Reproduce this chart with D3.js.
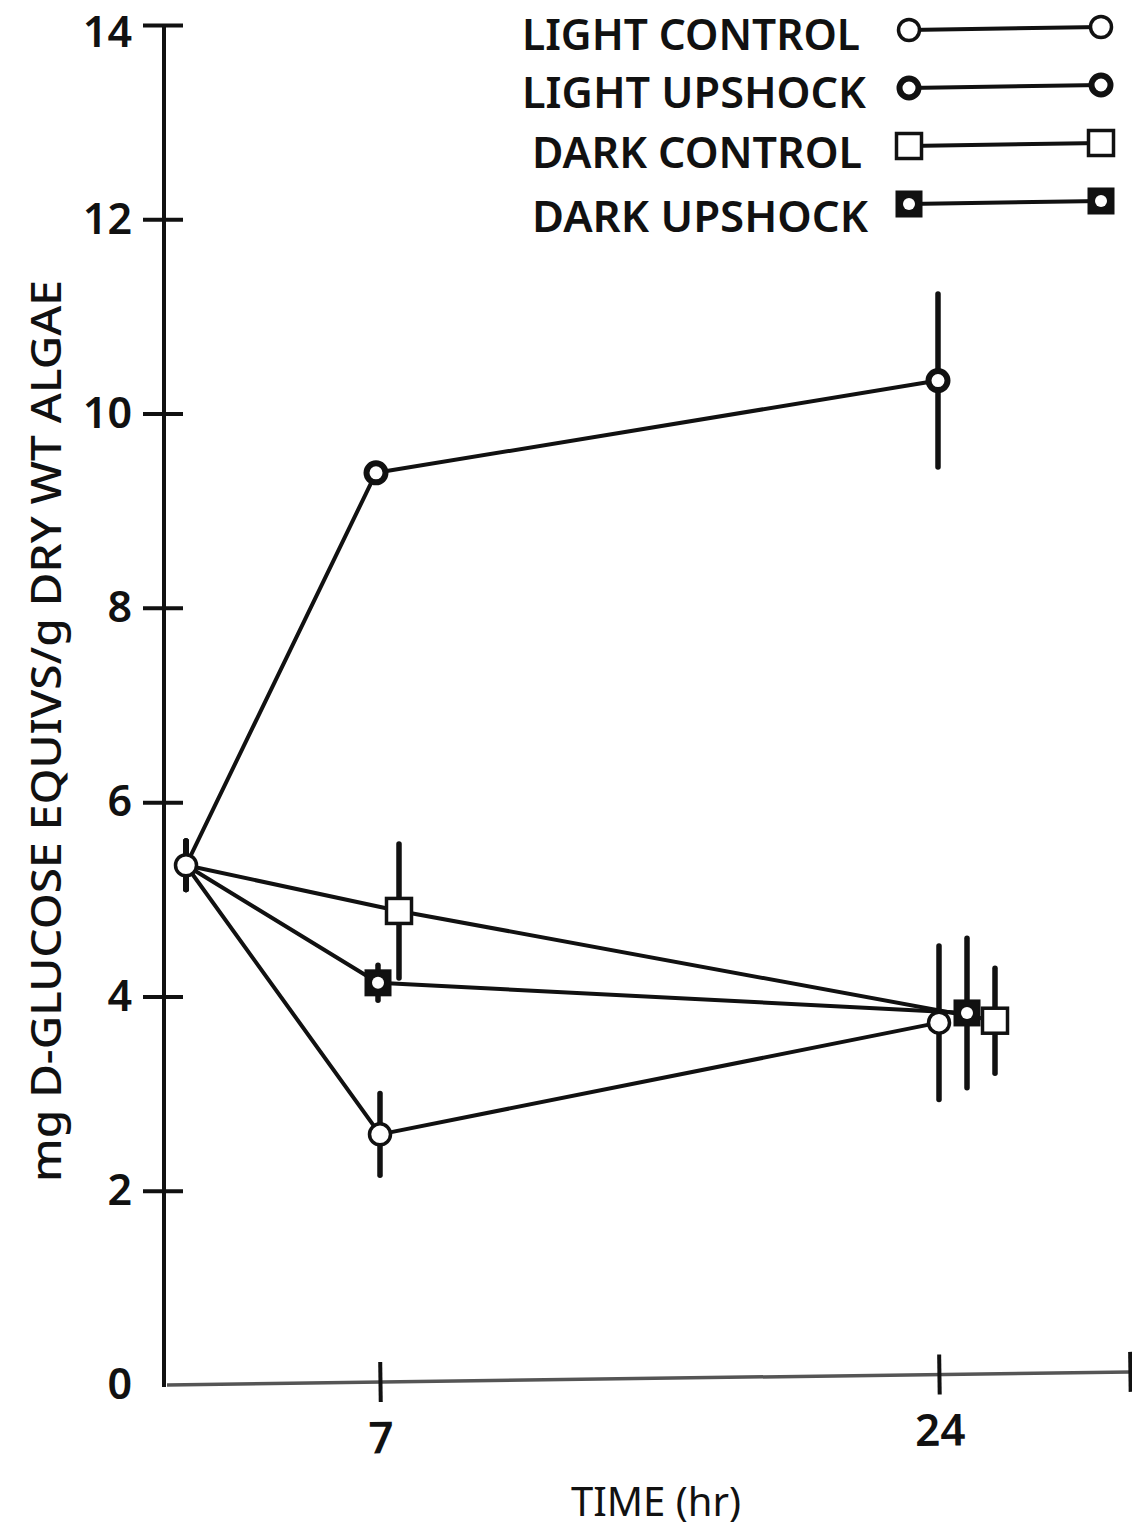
<!DOCTYPE html>
<html>
<head>
<meta charset="utf-8">
<script src="https://cdn.jsdelivr.net/npm/d3@7"></script>
<style>
  html, body { margin: 0; padding: 0; background: #fff; }
  svg { display: block; }
  text { font-family: "Noto Sans", "DejaVu Sans", sans-serif; fill: #111; }
</style>
</head>
<body>
<svg id="chart" width="1132" height="1528"></svg>
<script>
// Sampling times (hr)
const times = [0, 7, 24];
const axisEndTime = 30;

// Carbohydrate content, mg D-glucose equivalents per g dry weight, with error half-widths
const lightControl    = [5.35, 2.58, 3.73];
const lightControlErr = [0.25, 0.42, 0.79];
const lightUpshock    = [5.35, 9.39, 10.34];
const lightUpshockErr = [0.25, 0.00, 0.89];
const darkControl     = [5.35, 4.88, 3.75];
const darkControlErr  = [0.25, 0.69, 0.54];
const darkUpshock     = [5.35, 4.14, 3.83];
const darkUpshockErr  = [0.25, 0.18, 0.77];

const seriesNames = ["LIGHT CONTROL", "LIGHT UPSHOCK", "DARK CONTROL", "DARK UPSHOCK"];
const yTicks = [0, 2, 4, 6, 8, 10, 12, 14];
const xTicks = [7, 24];

const series = [
  { name: seriesNames[0], values: lightControl, err: lightControlErr, marker: "openCircle" },
  { name: seriesNames[1], values: lightUpshock, err: lightUpshockErr, marker: "ringCircle" },
  { name: seriesNames[2], values: darkControl,  err: darkControlErr,  marker: "openSquare" },
  { name: seriesNames[3], values: darkUpshock,  err: darkUpshockErr,  marker: "darkSquare" }
];

// horizontal nudges (px) so overlapping symbols stay visible
const dodge = {
  "LIGHT CONTROL": [0, 0, 0],
  "LIGHT UPSHOCK": [0, -4, -1],
  "DARK CONTROL":  [0, 19, 56],
  "DARK UPSHOCK":  [0, -2, 28]
};

const svg = d3.select("#chart");

const axisLeftX = 164;
const y = d3.scaleLinear().domain([0, 14]).range([1385, 25]);
// time axis is drawn with the origin point set just right of the vertical axis
const x = d3.scaleLinear().domain([0, 7, 24, axisEndTime]).range([186, 380, 939, 1130]);

// ---- Y axis ----
const yAxis = d3.axisLeft(y).tickValues(yTicks).tickSize(21).tickPadding(11).tickFormat(d3.format("d"));
const gy = svg.append("g").attr("transform", `translate(${axisLeftX},0)`).call(yAxis);
gy.select(".domain").remove();
gy.selectAll(".tick line")
  .attr("x1", 19).attr("x2", -21)
  .attr("stroke", "#111").attr("stroke-width", 4)
  .attr("display", d => d === 0 ? "none" : null);
gy.selectAll(".tick text")
  .attr("font-size", 43).attr("font-weight", 600)
  .attr("dy", d => d === 14 ? "0.5em" : "0.32em")
  .style("font-family", "'Noto Sans', sans-serif").attr("fill", "#111");
gy.append("line")
  .attr("x1", 0).attr("x2", 0)
  .attr("y1", y(14)).attr("y2", y(0) + 2)
  .attr("stroke", "#111").attr("stroke-width", 4);

// ---- X axis (slightly skewed baseline as on the printed sheet) ----
const gxWrap = svg.append("g")
  .attr("transform", `rotate(-0.78, ${axisLeftX + 3}, ${y(0)})`);
gxWrap.append("line")
  .attr("x1", axisLeftX + 3).attr("x2", x(axisEndTime))
  .attr("y1", y(0)).attr("y2", y(0))
  .attr("stroke", "#555").attr("stroke-width", 3.5);
const xAxis = d3.axisBottom(x).tickValues(xTicks.concat([axisEndTime])).tickSize(20).tickPadding(20)
  .tickFormat(d => d === axisEndTime ? "" : d);
const gx = gxWrap.append("g").attr("transform", `translate(0,${y(0)})`).call(xAxis);
gx.select(".domain").remove();
gx.selectAll(".tick line").attr("y1", -20).attr("stroke", "#111").attr("stroke-width", 4);
gx.selectAll(".tick text")
  .attr("font-size", 44).attr("font-weight", 600)
  .style("font-family", "'Noto Sans', sans-serif").attr("fill", "#111");

// ---- Axis titles ----
svg.append("text")
  .attr("x", 656).attr("y", 1516)
  .attr("text-anchor", "middle")
  .attr("font-size", 40)
  .attr("textLength", 170).attr("lengthAdjust", "spacingAndGlyphs")
  .text("TIME (hr)");

svg.append("text")
  .attr("transform", "translate(61,731) rotate(-90)")
  .attr("text-anchor", "middle")
  .attr("font-size", 42).attr("font-weight", 500)
  .attr("textLength", 902).attr("lengthAdjust", "spacingAndGlyphs")
  .text("mg D-GLUCOSE EQUIVS/g DRY WT ALGAE");

// ---- marker drawing ----
function drawMarker(g, type, cx, cy) {
  if (type === "openCircle") {
    g.append("circle").attr("cx", cx).attr("cy", cy).attr("r", 10.5)
      .attr("fill", "#fff").attr("stroke", "#111").attr("stroke-width", 3.5);
  } else if (type === "ringCircle") {
    g.append("circle").attr("cx", cx).attr("cy", cy).attr("r", 9.5)
      .attr("fill", "#fff").attr("stroke", "#111").attr("stroke-width", 6);
  } else if (type === "openSquare") {
    g.append("rect").attr("x", cx - 12.5).attr("y", cy - 12.5).attr("width", 25).attr("height", 25)
      .attr("fill", "#fff").attr("stroke", "#111").attr("stroke-width", 3.5);
  } else if (type === "darkSquare") {
    g.append("rect").attr("x", cx - 12.5).attr("y", cy - 12.5).attr("width", 25).attr("height", 25)
      .attr("fill", "#111").attr("stroke", "#111").attr("stroke-width", 2);
    g.append("circle").attr("cx", cx).attr("cy", cy).attr("r", 6).attr("fill", "#fff");
  }
}

const px = (s, i) => x(times[i]) + dodge[s.name][i];

// ---- connecting lines ----
const line = d3.line().x(d => d[0]).y(d => d[1]);
const gLines = svg.append("g");
series.forEach(s => {
  gLines.append("path")
    .attr("d", line(s.values.map((v, i) => [px(s, i), y(v)])))
    .attr("fill", "none").attr("stroke", "#111").attr("stroke-width", 4)
    .attr("stroke-linejoin", "round");
});

// ---- error bars ----
const gErr = svg.append("g");
series.forEach(s => {
  s.values.forEach((v, i) => {
    if (s.err[i] <= 0) return;
    gErr.append("line")
      .attr("x1", px(s, i)).attr("x2", px(s, i))
      .attr("y1", y(v + s.err[i])).attr("y2", y(v - s.err[i]))
      .attr("stroke", "#111").attr("stroke-width", 5.5).attr("stroke-linecap", "round");
  });
});

// ---- markers (common starting point drawn once) ----
const gMarks = svg.append("g");
series.forEach((s, k) => {
  s.values.forEach((v, i) => {
    if (i === 0 && k > 0) return;
    drawMarker(gMarks, s.marker, px(s, i), y(v));
  });
});

// ---- legend ----
const legendRows = [30, 88, 146, 204];
const legendTextX = [522, 522, 532, 532];
const legendTextLen = [338, 344, 330, 336];
const legendBaseline = [50, 108, 168, 232];
const gLeg = svg.append("g");
series.forEach((s, k) => {
  gLeg.append("text")
    .attr("x", legendTextX[k]).attr("y", legendBaseline[k])
    .attr("font-size", 43).attr("font-weight", 600)
    .attr("textLength", legendTextLen[k]).attr("lengthAdjust", "spacingAndGlyphs")
    .text(s.name);
  const ly = legendRows[k];
  gLeg.append("line")
    .attr("x1", 909).attr("x2", 1101).attr("y1", ly).attr("y2", ly - 3)
    .attr("stroke", "#111").attr("stroke-width", 4);
  drawMarker(gLeg, s.marker, 909, ly);
  drawMarker(gLeg, s.marker, 1101, ly - 3);
});
</script>
</body>
</html>
